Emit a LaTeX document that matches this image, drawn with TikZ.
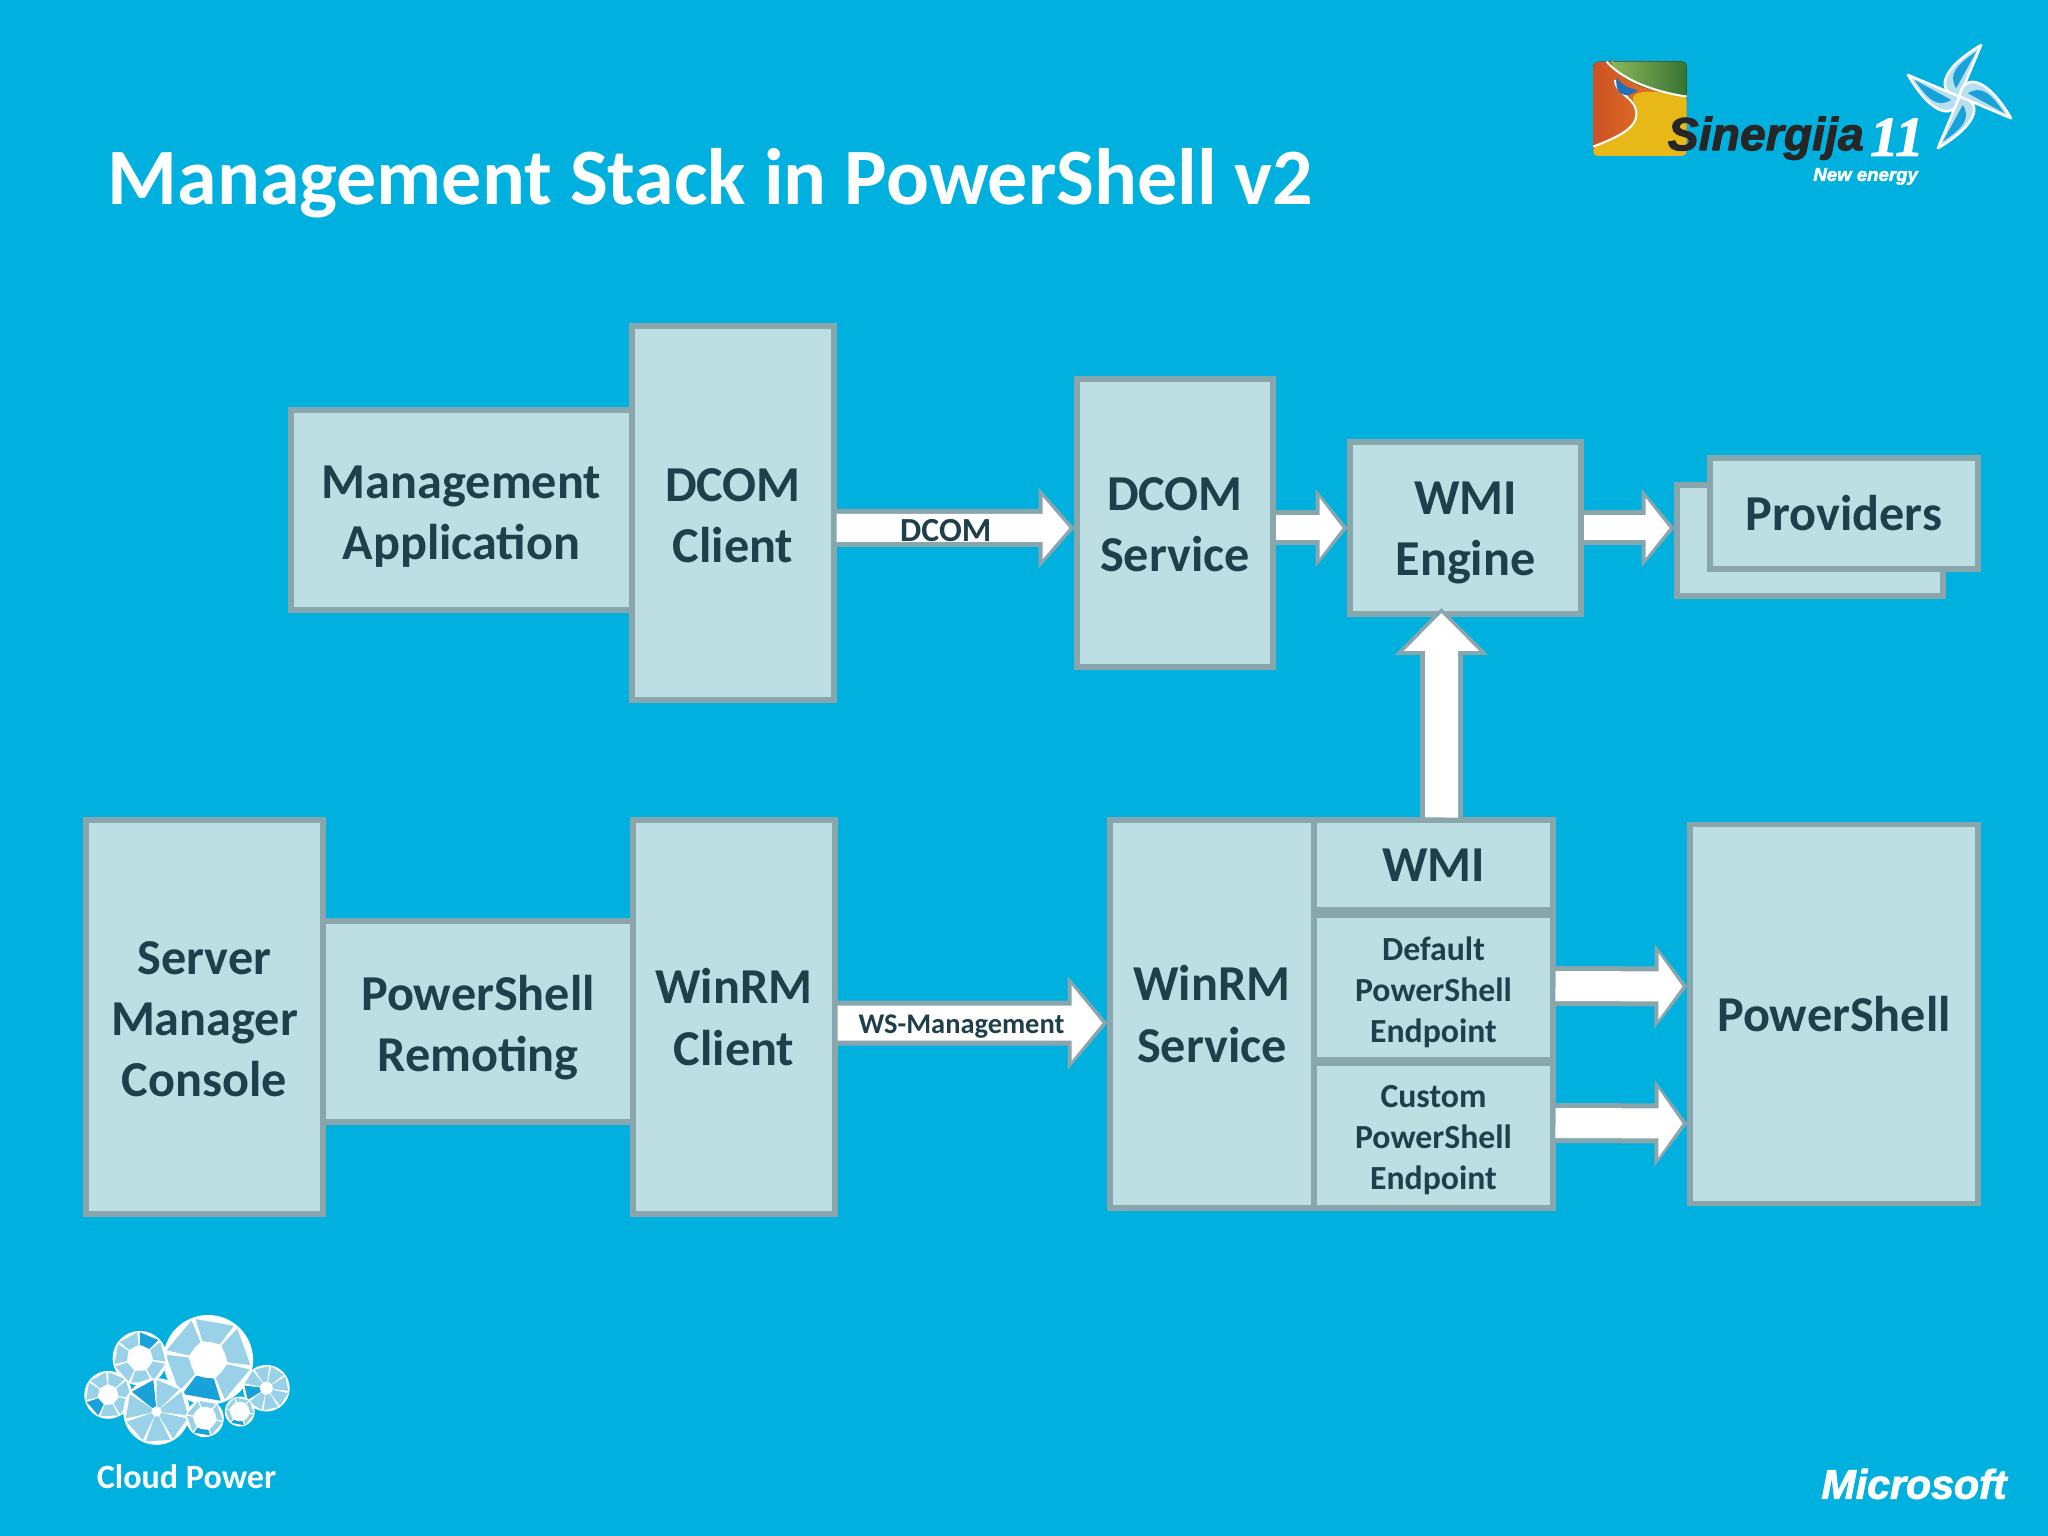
\documentclass[tikz,border=0pt]{standalone}
\usepackage{xcolor}
\usepackage{fontspec}
\setmainfont{Carlito}
\newfontfamily\logosans[BoldItalicFeatures={FakeBold=2.2}]{Liberation Sans}
\newfontfamily\logoserif[BoldItalicFeatures={FakeBold=2.2}]{Liberation Serif}
\usepackage{tikz}
\usetikzlibrary{positioning,arrows.meta}
\definecolor{c_slide}{rgb}{0.0, 0.69, 0.875}
\definecolor{c_box}{rgb}{0.74, 0.875, 0.895}
\definecolor{c_edge}{rgb}{0.54, 0.65, 0.68}
\definecolor{c_text}{rgb}{0.12, 0.25, 0.29}
\definecolor{c_pale}{rgb}{0.60, 0.82, 0.91}
\definecolor{c_deep}{rgb}{0.10, 0.63, 0.85}
\definecolor{c_redish}{rgb}{0.80, 0.32, 0.14}
\definecolor{c_orange}{rgb}{0.93, 0.52, 0.14}
\definecolor{c_gold}{rgb}{0.91, 0.72, 0.10}
\definecolor{c_leaf}{rgb}{0.55, 0.72, 0.35}
\definecolor{c_forest}{rgb}{0.22, 0.45, 0.20}
\definecolor{c_drop}{rgb}{0.13, 0.44, 0.74}
\tikzset{c-box/.style={rectangle, draw=c_edge, fill=c_box, line width=0.55mm, outer sep=0pt, inner sep=0pt, text centered, align=center, text=c_text, font=\bfseries\fontsize{14.3}{17.4}\selectfont},
c-small/.style={c-box, font=\bfseries\fontsize{9.6}{11.7}\selectfont},
c-label/.style={inner sep=0pt, text=c_text, font=\bfseries\fontsize{9.6}{11.7}\selectfont},
c-arrow/.style n args={3}{line width=#1-1mm, draw=white, shorten >=0.75mm, shorten <=0.25mm, -{Triangle[width=#2-1.8mm,length=#3-0.9mm]},
preaction={draw=c_edge, line width=#1, shorten >=0.25mm, shorten <=0.25mm, -{Triangle[width=#2,length=#3]}}}}
\newcommand{\lowline}[1]{\rule{0pt}{#1}}
\newcommand{\cloudwheel}[6]{% x, y, radius, cells, dark cell, hub
\fill[white] (#1,#2) circle (#3);
\foreach \k in {1,...,#4} {
  \pgfmathsetmacro{\aone}{(\k-1)*360/#4+13}
  \pgfmathsetmacro{\atwo}{\k*360/#4+7}
  \ifnum\k=#5\def\cellcolor{c_deep}\else\def\cellcolor{c_pale}\fi
  \fill[\cellcolor] ([shift={(\aone:#3*(#6+0.04))}]#1,#2) -- ([shift={(\aone:#3*0.95)}]#1,#2) -- ([shift={(\atwo:#3*0.95)}]#1,#2) -- ([shift={(\atwo:#3*(#6+0.04))}]#1,#2) -- cycle;
}
\fill[white] (#1,#2) circle (#3*#6);
}
\begin{document}
\begin{tikzpicture}
\fill[c_slide] (0,0) rectangle (20.48,-15.36);
\node (title) [anchor=base west, inner sep=0pt, text=white, font=\bfseries\fontsize{22.75}{27}\selectfont] at (1.07,-2.05) {Management Stack in PowerShell v2};
% upper row
\node (mgmtapp) [c-box, minimum width=34.1mm, minimum height=20mm] at (4.615,-5.10) {\lowline{4.6mm}Management\\Application};
\node (dcomclient) [c-box, right=0mm of mgmtapp, yshift=-0.3mm, minimum width=20.2mm, minimum height=37.4mm] {\lowline{3.8mm}DCOM\\Client};
\node (dcomservice) [c-box, right=24.3mm of dcomclient, yshift=-1mm, minimum width=19.6mm, minimum height=28.8mm] {\lowline{3.65mm}DCOM\\Service};
\node (wmiengine) [c-box, right=7.7mm of dcomservice, yshift=-0.5mm, minimum width=23.1mm, minimum height=17.2mm] {\lowline{4.25mm}WMI\\Engine};
\node (providersback) [c-box, right=9.6mm of wmiengine, yshift=-1.25mm, minimum width=26.6mm, minimum height=11.1mm] {};
\node (providers) [c-box, xshift=3.4mm, yshift=2.7mm, minimum width=26.8mm, minimum height=11.1mm] at (providersback) {Providers};
% lower row
\node (smconsole) [c-box, minimum width=23.7mm, minimum height=39.4mm] at (2.045,-10.17) {\lowline{3.75mm}Server\\Manager\\Console};
\node (psremoting) [c-box, right=0mm of smconsole, yshift=-0.45mm, minimum width=31mm, minimum height=20.1mm] {\lowline{4.7mm}PowerShell\\Remoting};
\node (winrmclient) [c-box, right=0mm of psremoting, yshift=0.45mm, minimum width=20.2mm, minimum height=39.4mm] {WinRM\\Client};
\node (winrmservice) [c-box, right=27.5mm of winrmclient, yshift=0.3mm, minimum width=20.4mm, minimum height=38.8mm] {WinRM\\Service};
\node (wmi) [c-box, anchor=north west, minimum width=23.9mm, minimum height=9mm] at (winrmservice.north east) {WMI};
\node (defaultep) [c-small, below=0.5mm of wmi, minimum width=23.9mm, minimum height=14.5mm] {\lowline{3.27mm}Default\\PowerShell\\Endpoint};
\node (customep) [c-small, below=0.3mm of defaultep, minimum width=23.9mm, minimum height=14.5mm] {\lowline{3.2mm}Custom\\PowerShell\\Endpoint};
\node (powershell) [c-box, right=37.6mm of winrmservice, minimum width=28.8mm, minimum height=37.9mm] {PowerShell};
% block arrows
\draw [c-arrow={3.8mm}{7.9mm}{3.6mm}] ([yshift=-1.5mm]dcomclient.east) -- node[pos=0.46, yshift=-0.25mm] (dcomlabel) [c-label] {DCOM} ([yshift=-0.5mm]dcomservice.west);
\draw [c-arrow={3.5mm}{7.7mm}{3.2mm}] ([yshift=-0.5mm]dcomservice.east) -- (wmiengine.west);
\draw [c-arrow={3.5mm}{7.7mm}{3.3mm}] (wmiengine.east) -- ([yshift=1.25mm]providersback.west);
\draw [c-arrow={4.3mm}{9.1mm}{4.7mm}] ([xshift=0.8mm]wmi.north) -- ([xshift=-2.4mm,yshift=0.85mm]wmiengine.south);
\draw [c-arrow={4.5mm}{9.2mm}{4mm}] ([yshift=-0.6mm]winrmclient.east) -- node[pos=0.46, yshift=-0.35mm] (wslabel) [c-label, font=\bfseries\fontsize{8.1}{10}\selectfont] {WS-Management} ([yshift=-0.9mm]winrmservice.west);
\draw [c-arrow={4mm}{8.3mm}{3.3mm}] ([yshift=0.15mm]defaultep.east) -- ([yshift=2.75mm]powershell.west);
\draw [c-arrow={4mm}{8.5mm}{3.3mm}] ([yshift=1.25mm]customep.east) -- ([yshift=-10.95mm]powershell.west);
% logo top right
\begin{scope}[shift={(15.6,-0.3)}, x=0.0333mm, y=-0.0333mm]
\fill[left color=c_redish, right color=c_orange, rounded corners=0.6mm] (100,95) rectangle (380,378);
\fill[left color=c_leaf, right color=c_forest, rounded corners=0.4mm] (150,95) -- (380,95) -- (380,200) .. controls (300,185) and (240,175) .. (190,140) .. controls (170,125) and (160,110) .. cycle;
\fill[c_gold, rounded corners=0.4mm] (380,200) .. controls (300,185) and (250,180) .. (215,200) .. controls (240,260) and (230,300) .. (100,350) -- (100,378) -- (380,378) -- cycle;
\draw[white, line width=0.2mm] (140,95) .. controls (170,130) and (240,178) .. (380,200);
\draw[white, line width=0.2mm] (165,150) .. controls (165,190) and (220,200) .. (228,240) .. controls (240,290) and (180,320) .. (100,350);
\fill[c_drop] (172,142) .. controls (160,185) and (190,215) .. (235,180) .. controls (200,175) and (185,165) .. cycle;
\foreach \a in {0,90,180,270} {
  \begin{scope}[rotate around={\a:(1200,200)}]
  \fill[c_pale!70!white, draw=white, line width=0.25mm, line join=round] (1200,200) .. controls (1135,190) and (1130,125) .. (1265,45) -- cycle;
  \fill[c_deep] (1190,175) .. controls (1165,135) and (1190,105) .. (1250,65) -- cycle;
  \end{scope}
}
\node (sinergija) [inner sep=0pt, text=black!85, font=\logosans\bfseries\itshape\fontsize{13.2}{15}\selectfont] at (618,325) {Sinergija};
\node (eleven) [inner sep=0pt, text=white, font=\logoserif\bfseries\itshape\fontsize{16}{17}\selectfont] at (1012,322) {11};
\node (newenergy) [inner sep=0pt, text=white, font=\logosans\bfseries\itshape\fontsize{5.3}{6}\selectfont] at (918,440) {New energy};
\end{scope}
% logo bottom left
\begin{scope}[shift={(0.6,-12.9)}, x=0.0333mm, y=-0.0333mm]
\cloudwheel{445}{210}{135}{6}{2}{0.4}
\cloudwheel{240}{205}{82}{7}{6}{0.45}
\cloudwheel{620}{295}{70}{8}{4}{0.25}
\cloudwheel{145}{315}{72}{7}{3}{0.4}
\cloudwheel{290}{365}{100}{7}{5}{0.12}
\cloudwheel{435}{385}{57}{6}{2}{0.6}
\cloudwheel{540}{365}{45}{6}{2}{0.65}
\node (cloudpower) [inner sep=0pt, text=white, font=\bfseries\fontsize{9.7}{11}\selectfont] at (380,560) {Cloud Power};
\end{scope}
\node (microsoft) [inner sep=0pt, text=white, font=\logosans\bfseries\itshape\fontsize{11.7}{13}\selectfont] at (19.14,-14.84) {Microsoft};
\end{tikzpicture}
\end{document}
